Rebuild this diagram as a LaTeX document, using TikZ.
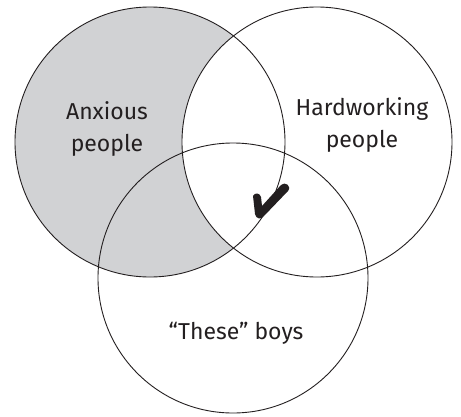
\documentclass[tikz,border=0pt]{standalone}
\usepackage{fontspec}
\setmainfont{Fira Sans}
\definecolor{shadegray}{HTML}{D1D2D4}
\definecolor{inkgray}{HTML}{231F20}
\tikzset{
  vennline/.style={draw=inkgray, line width=0.9pt},
  lbl/.style={align=center, font=\fontsize{23}{32}\selectfont, text=inkgray, inner sep=0pt}
}
\begin{document}
\begin{tikzpicture}[x=1pt,y=-1pt]
\useasboundingbox (0,0) rectangle (461,416);
\coordinate (L) at (150,142);
\coordinate (R) at (317,142);
\coordinate (B) at (233,278);
\fill[shadegray] (L) circle (135);
\begin{scope}
  \clip (L) circle (135);
  \fill[white] (R) circle (135);
\end{scope}
\draw[vennline] (L) circle (135);
\draw[vennline] (R) circle (135);
\draw[vennline] (B) circle (135);
\node[lbl] (anx) at (107,129) {Anxious\\people};
\node[lbl] (hard) at (362,125) {Hardworking\\people};
\node[lbl] (boys) at (236,333) {“These” boys};
\fill[inkgray] (253,196) .. controls (255,192) and (260,193) .. (261,197) -- (262,206) -- (281,185) .. controls (285,181) and (292,186) .. (288,191) -- (264,216) .. controls (261,220) and (256,219) .. (255,214) -- cycle;
\end{tikzpicture}
\end{document}
